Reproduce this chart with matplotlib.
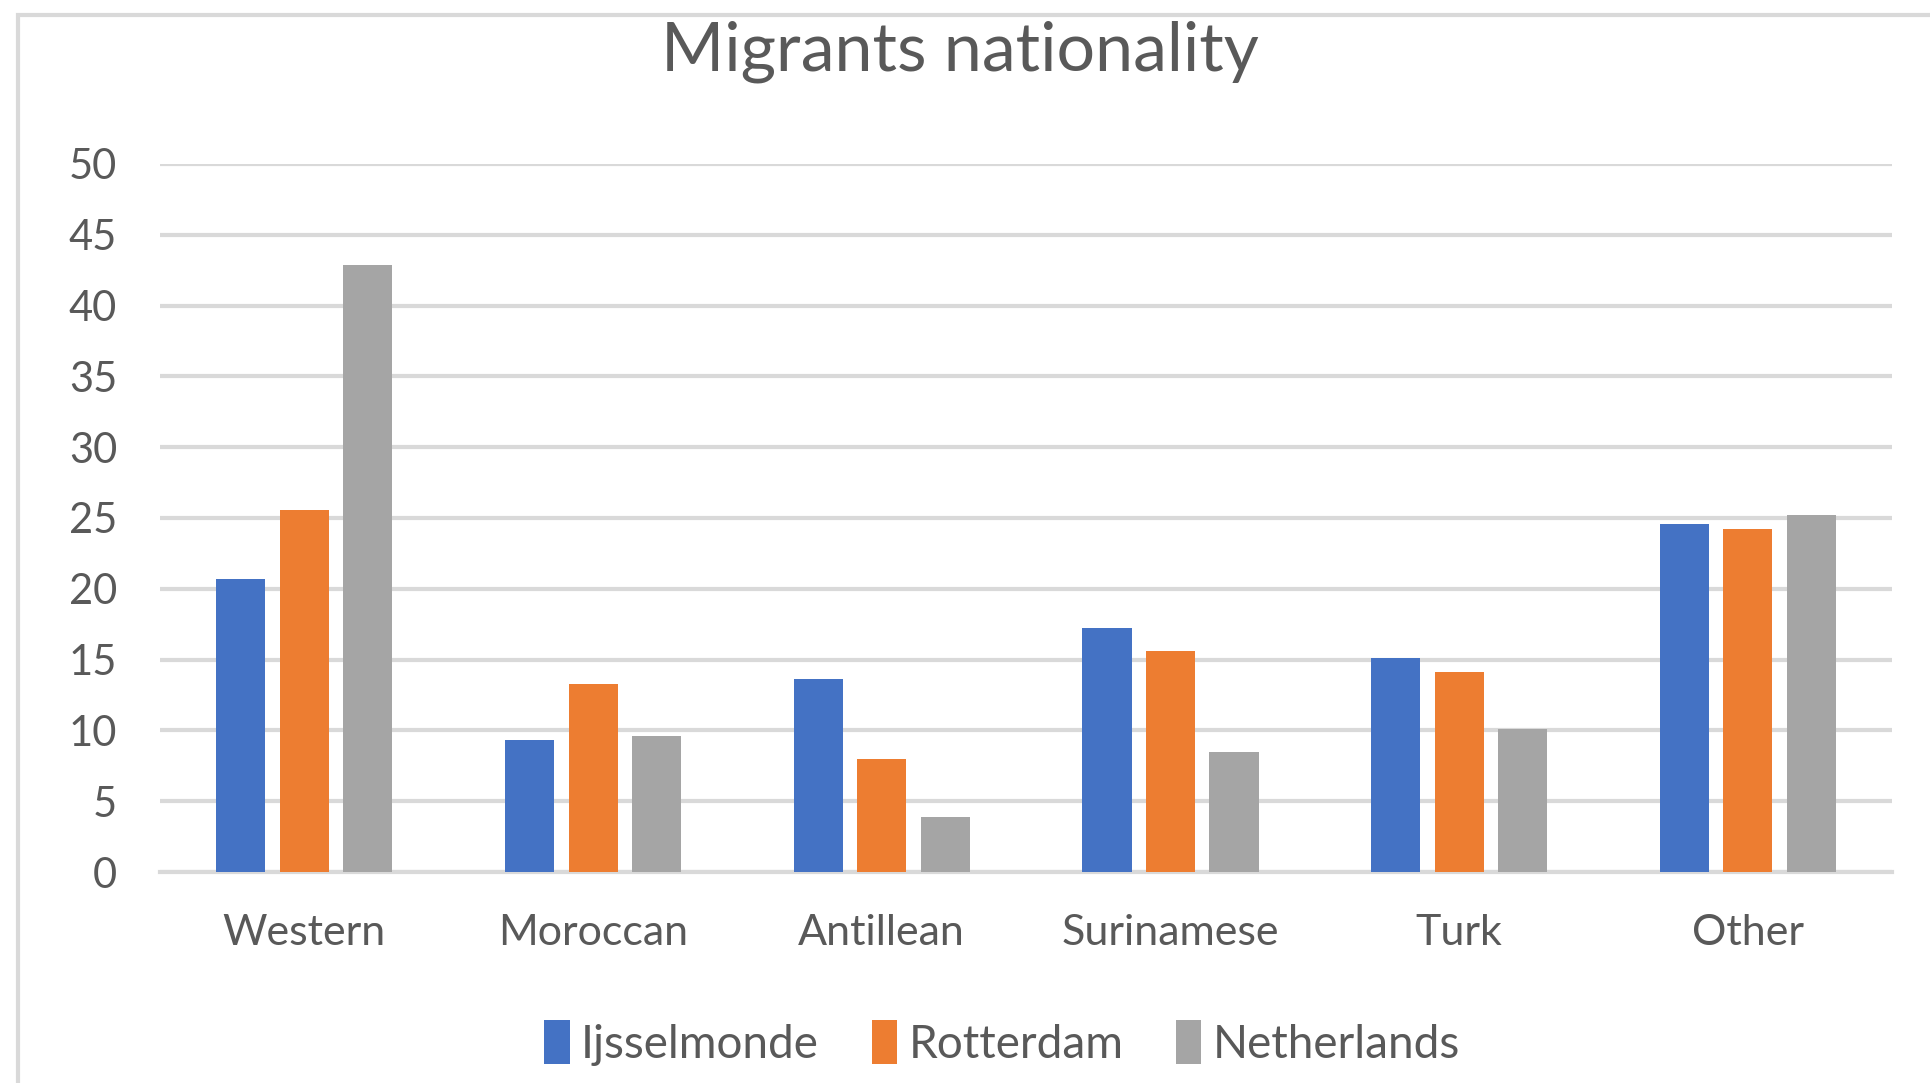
import numpy as np
import matplotlib.pyplot as plt
from matplotlib.patches import Rectangle

plt.rcParams['font.family'] = ['Lato', 'DejaVu Sans']

categories = ['Western', 'Moroccan', 'Antillean', 'Surinamese', 'Turk', 'Other']
ijsselmonde = [20.7, 9.3, 13.6, 17.2, 15.1, 24.6]
rotterdam = [25.6, 13.3, 8.0, 15.6, 14.1, 24.2]
netherlands = [42.9, 9.6, 3.9, 8.5, 10.1, 25.2]
series_names = ['Ijsselmonde', 'Rotterdam', 'Netherlands']
colors = ['#4472C4', '#ED7D31', '#A5A5A5']
yticks = [0, 5, 10, 15, 20, 25, 30, 35, 40, 45, 50]

text_col = '#595959'
grid_col = '#D9D9D9'

fig = plt.figure(figsize=(19.31, 10.83), dpi=100)
ax = fig.add_axes([0.0829, 0.1948, 0.897, 0.6538])

# chart border (light gray frame, cut off at right and bottom)
fig.patches.append(Rectangle((18 / 1931, -0.05), 1.2, 1 - 15 / 1083 + 0.05,
                             transform=fig.transFigure, fill=False,
                             edgecolor='#D9D9D9', linewidth=3))

x = np.arange(len(categories))
step = 0.22
width = 0.17
for i, (vals, name) in enumerate(zip([ijsselmonde, rotterdam, netherlands], series_names)):
    ax.bar(x + (i - 1) * step, vals, width=width, color=colors[i], label=name, zorder=3)

ax.set_xlim(-0.5, 5.5)
ax.set_ylim(0, 50)
ax.set_yticks(yticks)
ax.set_yticklabels([str(t) for t in yticks])
ax.set_xticks(x)
ax.set_xticklabels(categories)
ax.yaxis.grid(True, color=grid_col, linewidth=3, zorder=0)
ax.set_axisbelow(True)
for s in ['top', 'right', 'left']:
    ax.spines[s].set_visible(False)
ax.spines['bottom'].set_color(grid_col)
ax.spines['bottom'].set_linewidth(3)
ax.tick_params(axis='both', length=0, colors=text_col)
ax.tick_params(axis='x', pad=30, labelsize=31)
ax.tick_params(axis='y', pad=31, labelsize=30)

fig.text(0.497, 0.952, 'Migrants nationality', ha='center', va='center',
         fontsize=49, color=text_col)

fig.legend(loc='center', bbox_to_anchor=(0.519, 0.037), ncol=3, frameon=False,
           fontsize=33, labelcolor=text_col, handlelength=0.55, handleheight=1.1,
           handletextpad=0.25, columnspacing=1.15)

fig.savefig('out.png', dpi=100, facecolor='white')
